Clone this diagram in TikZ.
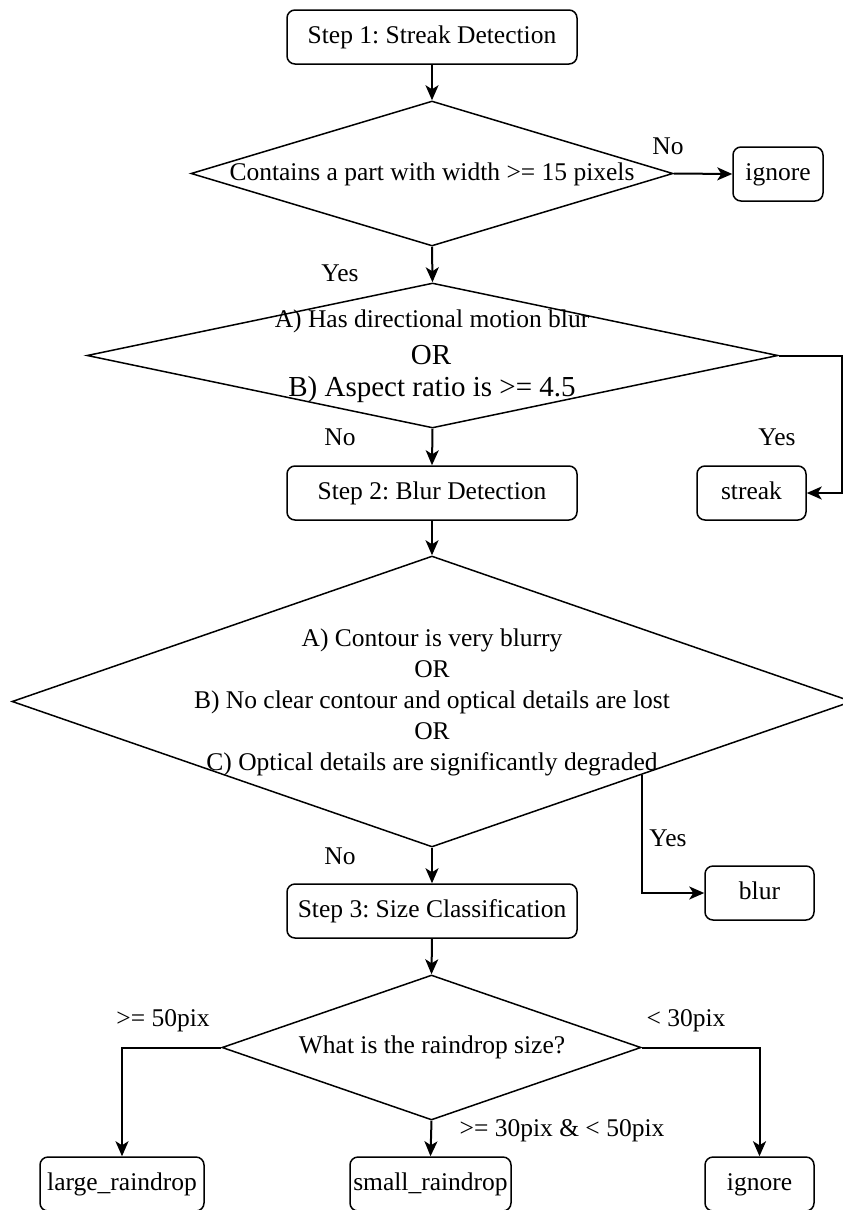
\documentclass[tikz,border=0pt]{standalone}
\usepackage{fontspec}
\setmainfont{Liberation Serif}
\usetikzlibrary{shapes.geometric,arrows.meta,calc}
\frenchspacing
\tikzset{
  box/.style={draw, line width=1.5pt, rounded corners=8pt, minimum height=54pt, inner sep=0pt, text height=18pt, text depth=5pt, font=\fontsize{25.5}{31}\selectfont},
  dia/.style={draw, diamond, line width=1.5pt, inner sep=0pt},
  arr/.style={line width=2pt, -{Stealth[length=15pt,width=13pt,inset=4pt]}},
  lbl/.style={inner sep=0pt, font=\fontsize{25.5}{31}\selectfont},
  big/.style={inner sep=0pt, font=\fontsize{29}{35}\selectfont}
}
\begin{document}
\begin{tikzpicture}[x=1pt,y=-1pt]
\useasboundingbox (0,0) rectangle (843,1210);
\clip (0,0) rectangle (843,1210);
% boxes
\node[box, minimum width=290pt] (s1) at (432,37) {Step 1: Streak Detection};
\node[box, minimum width=90pt] (ign1) at (778,174) {ignore};
\node[box, minimum width=290pt] (s2) at (432,493) {Step 2: Blur Detection};
\node[box, minimum width=109pt] (streak) at (751.5,493) {streak};
\node[box, minimum width=290pt] (s3) at (432,911) {Step 3: Size Classification};
\node[box, minimum width=109pt] (blur) at (759.5,893) {blur};
\node[box, minimum width=164pt] (large) at (122,1184) {large\_raindrop};
\node[box, minimum width=161pt] (small) at (430.5,1184) {small\_raindrop};
\node[box, minimum width=109pt] (ign2) at (759.5,1184) {ignore};
% diamonds
\node[dia, minimum width=482pt, minimum height=145pt] (d1) at (432,173.5) {};
\node[lbl] (t1) at (432,174) {Contains a part with width >= 15 pixels};
\node[dia, minimum width=691pt, minimum height=145pt] (d2) at (432.5,355.5) {};
\node[lbl] (t2a) at (432,321) {A) Has directional motion blur};
\node[big] (t2b) at (431,355) {OR};
\node[big] (t2c) at (432,390) {B) Aspect ratio is >= 4.5};
\node[dia, minimum width=840pt, minimum height=291pt] (d3) at (432,701.5) {};
\node[lbl, align=center] (t3) at (432,702) {A) Contour is very blurry\\OR\\B) No clear contour and optical details are lost\\OR\\C) Optical details are significantly degraded};
\node[dia, minimum width=419pt, minimum height=145pt] (d4) at (431.5,1047.5) {};
\node[lbl] (t4) at (432,1047) {What is the raindrop size?};
% connectors
\draw[arr] (s1.south) -- (d1.north);
\draw[arr] (d1.east) -- (ign1.west);
\draw[arr] (d1.south) -- (d2.north);
\coordinate (r2) at (842,355.5);
\draw[arr] (d2.east) -- (r2) |- (streak.east);
\draw[arr] (d2.south) -- (s2.north);
\draw[arr] (s2.south) -- (d3.north);
\coordinate (y3) at ($(d3.east)!0.5!(d3.south)$);
\draw[arr] (y3) |- (blur.west);
\draw[arr] (d3.south) -- (s3.north);
\draw[arr] (s3.south) -- (d4.north);
\draw[arr] (d4.west) -| (large.north);
\draw[arr] (d4.east) -| (ign2.north);
\draw[arr] (d4.south) -- (small.north);
% labels
\node[lbl] (l1) at (668,146) {No};
\node[lbl] (l2) at (340,273) {Yes};
\node[lbl] (l3) at (777,437) {Yes};
\node[lbl] (l4) at (340,437) {No};
\node[lbl] (l5) at (668,838) {Yes};
\node[lbl] (l6) at (340,856) {No};
\node[lbl] (l7) at (163,1021) {>= 50pix};
\node[lbl] (l8) at (686,1021) {< 30pix};
\node[lbl] (l9) at (562,1131) {>= 30pix \& < 50pix};
\end{tikzpicture}
\end{document}
